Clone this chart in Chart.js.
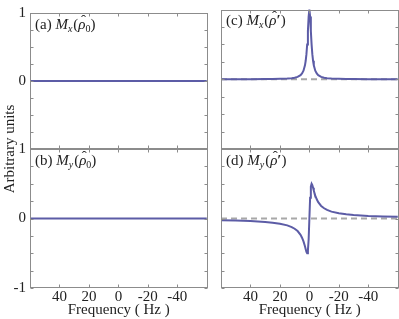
<!DOCTYPE html>
<html>
<head>
<meta charset="utf-8">
<title>Mx / My spectra</title>
<style>
  body { margin: 0; background: #fff; }
  #wrap { position: relative; width: 399px; height: 319px; }
  #wrap canvas { position: absolute; left: 0; top: 0; }
</style>
<script src="https://cdn.jsdelivr.net/npm/chart.js@4.4.1/dist/chart.umd.min.js"></script>
</head>
<body>
<div id="wrap">
  <canvas id="pa" width="399" height="319"></canvas>
  <canvas id="pb" width="399" height="319"></canvas>
  <canvas id="pc" width="399" height="319"></canvas>
  <canvas id="pd" width="399" height="319"></canvas>
</div>
<script>
// frequency axis (Hz), denser near the resonance
const freq = [60, 50, 40, 30, 25, 20, 15, 12, 10, 8, 6, 5, 4, 3, 2.5, 2, 1.5, 1, 0.5, 0,
  -0.5, -1, -1.5, -2, -2.5, -3, -4, -5, -6, -8, -10, -12, -15, -20, -25, -30, -40, -50, -60];
// (c) absorption-like peak
const mxPrime = [0.001, 0.001, 0.001, 0.002, 0.004, 0.006, 0.010, 0.015, 0.022, 0.034, 0.059, 0.083, 0.123, 0.20, 0.265, 0.36, 0.50, 0.69, 0.90, 1.00,
  0.90, 0.69, 0.50, 0.36, 0.265, 0.20, 0.123, 0.083, 0.059, 0.034, 0.022, 0.015, 0.010, 0.006, 0.004, 0.002, 0.001, 0.001, 0.001];
// (d) dispersion-like curve
const myPrime = [-0.025, -0.030, -0.037, -0.050, -0.060, -0.075, -0.099, -0.123, -0.147, -0.181, -0.235, -0.276, -0.329, -0.40, -0.441, -0.48, -0.50, -0.46, -0.30, 0,
  0.30, 0.46, 0.50, 0.48, 0.441, 0.40, 0.329, 0.276, 0.235, 0.181, 0.147, 0.123, 0.099, 0.075, 0.060, 0.050, 0.037, 0.030, 0.025];
// (a), (b): flat lines
const freqEnds = [60, -60];
const flatZero = [0, 0];

const xTickLabels = [40, 20, 0, -20, -40];
const yMarks = [-1, -0.75, -0.5, -0.25, 0, 0.25, 0.5, 0.75, 1];

const FONT = "'Liberation Serif', 'Times New Roman', serif";
const INK = '#222';
const CURVE = '#5c5ca6';
const FRAME = '#8c8c8c';

function pts(xs, ys) { return xs.map((x, i) => ({ x: x, y: ys[i] })); }

function drawTag(ctx, x0, y0, o) {
  const reg = '15px ' + FONT, ital = 'italic 15px ' + FONT;
  const smallI = 'italic 10px ' + FONT, small = '10px ' + FONT;
  const parts = [
    { t: o.tag + ' ', f: reg },
    { t: 'M', f: ital },
    { t: o.sub, f: smallI, dy: 3 },
    { t: '(', f: reg },
    { t: '\u03C1', f: ital, hat: true },
    o.prime ? { t: '\u2032', f: 'bold 15px ' + FONT } : { t: '0', f: small, dy: 3 },
    { t: ')', f: reg }
  ];
  let x = x0;
  ctx.fillStyle = INK;
  ctx.textBaseline = 'alphabetic';
  ctx.textAlign = 'left';
  parts.forEach(p => {
    ctx.font = p.f;
    ctx.fillText(p.t, x, y0 + (p.dy || 0));
    const w = ctx.measureText(p.t).width;
    if (p.hat) {
      ctx.font = '15px ' + FONT;
      ctx.textAlign = 'center';
      ctx.fillText('\u02C6', x + w / 2 + 1.5, y0 - 4);
      ctx.textAlign = 'left';
    }
    x += w + (p.f === smallI ? 1 : 0);
  });
}

const framePlugin = {
  id: 'frame',
  afterDatasetsDraw(chart, args, opts) {
    const { ctx, chartArea: a, scales: { x, y } } = chart;
    const L = Math.round(a.left) + 0.5, R = Math.round(a.right) - 0.5;
    const T = Math.round(a.top) + 0.5, B = Math.round(a.bottom) - 0.5;
    ctx.save();
    ctx.strokeStyle = FRAME;
    ctx.lineWidth = 1;
    ctx.strokeRect(L, T, R - L, B - T);
    ctx.beginPath();
    xTickLabels.forEach(v => {
      const px = Math.round(x.getPixelForValue(v)) + 0.5;
      ctx.moveTo(px, T); ctx.lineTo(px, T + 3);
      ctx.moveTo(px, B); ctx.lineTo(px, B - 3);
    });
    yMarks.forEach(v => {
      const py = Math.round(y.getPixelForValue(v)) + 0.5;
      ctx.moveTo(L, py); ctx.lineTo(L + 3, py);
      ctx.moveTo(R, py); ctx.lineTo(R - 3, py);
    });
    ctx.stroke();
    drawTag(ctx, a.left + 5, a.top + 15.5, opts);
    if (opts.yTitle) {
      ctx.translate(10, 149);
      ctx.rotate(-Math.PI / 2);
      ctx.font = '15px ' + FONT;
      ctx.fillStyle = INK;
      ctx.textAlign = 'center';
      ctx.textBaseline = 'middle';
      ctx.fillText(opts.yTitle, 0, 0);
    }
    ctx.restore();
  }
};

function makeChart(id, cfg) {
  const datasets = [{
    data: cfg.data,
    borderColor: CURVE,
    borderWidth: 2,
    pointRadius: 0,
    tension: 0
  }];
  if (cfg.dashed) {
    datasets.push({
      data: pts(freqEnds, flatZero),
      borderColor: '#a8a8a8',
      borderWidth: 1.8,
      borderDash: [6, 4],
      pointRadius: 0
    });
  }
  const hasY = cfg.yLabels.length > 0;
  return new Chart(document.getElementById(id), {
    type: 'line',
    data: { datasets: datasets },
    options: {
      responsive: false,
      animation: false,
      layout: { padding: cfg.padding },
      plugins: {
        legend: { display: false },
        tooltip: { enabled: false },
        frame: { tag: cfg.tag, sub: cfg.sub, prime: cfg.prime, yTitle: cfg.yTitle }
      },
      scales: {
        x: {
          type: 'linear',
          min: -60.5,
          max: 60,
          reverse: true,
          grid: { display: false, drawTicks: false },
          border: { display: false },
          afterBuildTicks: s => { s.ticks = xTickLabels.map(v => ({ value: v })); },
          afterFit: s => { s.height = cfg.bottom ? 31 : 0; },
          ticks: {
            display: cfg.bottom,
            color: INK,
            padding: 0,
            font: { family: FONT, size: 15 },
            callback: v => String(v)
          },
          title: {
            display: cfg.bottom,
            text: 'Frequency ( Hz )',
            color: INK,
            padding: 0,
            font: { family: FONT, size: 15 }
          }
        },
        y: {
          type: 'linear',
          min: -1,
          max: 1,
          display: hasY,
          grid: { display: false, drawTicks: false },
          border: { display: false },
          afterBuildTicks: s => { s.ticks = cfg.yLabels.map(v => ({ value: v })); },
          afterFit: s => { s.width = hasY ? 30 : 0; },
          ticks: {
            color: INK,
            padding: 4,
            font: { family: FONT, size: 15 },
            callback: v => String(v)
          }
        }
      }
    },
    plugins: [framePlugin]
  });
}

makeChart('pa', {
  data: pts(freqEnds, flatZero), tag: '(a)', sub: 'x', prime: false,
  yLabels: [1, 0], bottom: false, yTitle: 'Arbitrary units',
  padding: { left: 0, top: 9.5, right: 191.5, bottom: 170 }
});
makeChart('pb', {
  data: pts(freqEnds, flatZero), tag: '(b)', sub: 'y', prime: false,
  yLabels: [1, 0, -1], bottom: true,
  padding: { left: 0, top: 149, right: 191.5, bottom: 0 }
});
makeChart('pc', {
  data: pts(freq, mxPrime), tag: '(c)', sub: 'x', prime: true, dashed: true,
  yLabels: [], bottom: false,
  padding: { left: 221, top: 9.5, right: 0.5, bottom: 170 }
});
makeChart('pd', {
  data: pts(freq, myPrime), tag: '(d)', sub: 'y', prime: true, dashed: true,
  yLabels: [], bottom: true,
  padding: { left: 221, top: 149, right: 0.5, bottom: 0 }
});
</script>
</body>
</html>
